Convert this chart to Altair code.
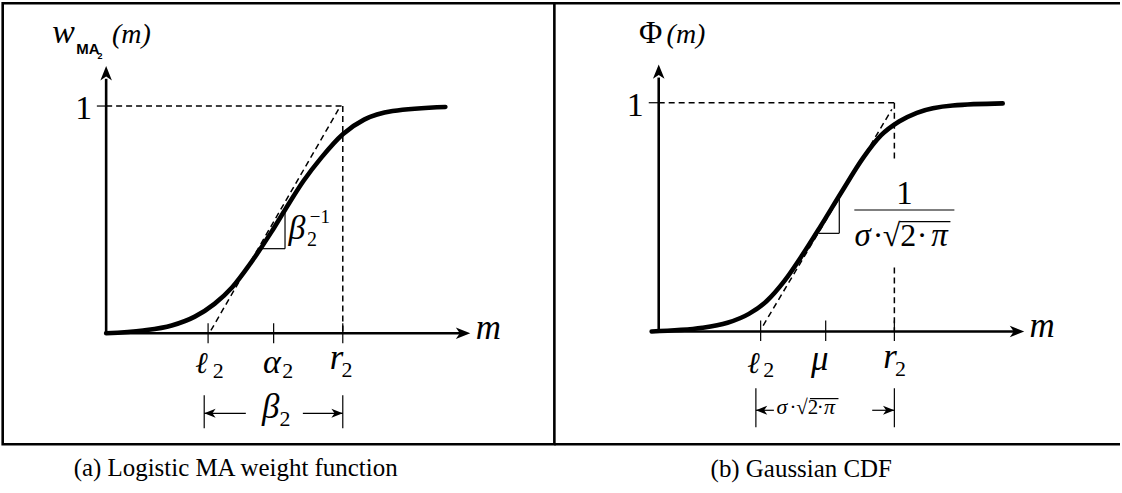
import altair as alt
import pandas as pd

SERIF = "Liberation Serif"
SANS = "Liberation Sans"
SCRIPT = "DejaVu Serif"

# ---------------- panel (a): logistic MA weight function ----------------
A_WIDTH, A_HEIGHT = 553, 442
A_M_DOMAIN = [-2.4286, 10.522]
A_W_DOMAIN = [-0.4888, 1.4524]

a_curve_m = [0.0, 0.871, 1.539, 2.082, 2.543, 2.960, 3.379, 3.881, 4.215, 4.635, 5.052, 5.555, 6.056, 6.726, 7.963]
a_curve_w = [0.0, 0.012, 0.034, 0.073, 0.129, 0.202, 0.305, 0.446, 0.548, 0.671, 0.773, 0.876, 0.940, 0.978, 0.996]

# dashed guides: level 1, vertical at r2, tangent through alpha2
a_dash_m = [0.0, 5.555, 2.459]
a_dash_w = [1.0, 1.0, 0.012]
a_dash_m2 = [5.555, 5.555, 5.454]
a_dash_w2 = [1.0, 0.0, 0.985]

# thin solid strokes: ticks, slope triangle, width bracket
a_thin_m = [2.393, 3.932, 5.555, -0.218, 4.199, 3.604, 2.302, 5.555, 2.302, 4.618]
a_thin_w = [0.044, 0.044, 0.044, 1.0, 0.552, 0.372, -0.2736, -0.2736, -0.3527, -0.3527]
a_thin_m2 = [2.393, 3.932, 5.555, 0.0, 4.199, 4.199, 2.302, 5.555, 3.279, 5.555]
a_thin_w2 = [-0.044, -0.044, -0.044, 1.0, 0.372, 0.372, -0.4185, -0.4185, -0.3527, -0.3527]

# coordinate axes
a_axis_m = [0.0, 0.0]
a_axis_w = [0.0, 0.0]
a_axis_m2 = [8.45, 0.0]
a_axis_w2 = [0.0, 1.12]

a_head_m = [8.548, 0.0]
a_head_w = [0.0, 1.176]
a_head_angle = [0, 270]

a_bhead_m = [2.302, 5.555]
a_bhead_w = [-0.3527, -0.3527]
a_bhead_angle = [180, 0]

a_it_text = ["w", "(m)", "m", "\u03b1", "r", "\u03b2", "\u03b2"]
a_it_m = [-1.0, 0.5925, 8.974, 3.89, 5.408, 4.48, 3.86]
a_it_w = [1.2767, 1.2767, -0.0277, -0.177, -0.159, 0.416, -0.375]
a_it_size = [34, 28, 35, 34, 35, 34, 35]

a_sc_text = ["\u2113"]
a_sc_m = [2.239]
a_sc_w = [-0.177]
a_sc_size = [30]

a_rm_text = ["1", "2", "2", "2", "2", "\u22121", "2"]
a_rm_m = [-0.527, 2.63, 4.26, 5.651, 4.831, 5.019, 4.2]
a_rm_w = [0.9416, -0.197, -0.197, -0.193, 0.385, 0.486, -0.41]
a_rm_size = [34, 22, 22, 22, 20, 19, 22]

a_sf_text = ["MA", "2"]
a_sf_m = [-0.43, -0.145]
a_sf_w = [1.2297, 1.2051]
a_sf_size = [15, 9]

# ---------------- panel (b): Gaussian CDF ----------------
B_WIDTH, B_HEIGHT = 567, 442
B_M_DOMAIN = [-2.4496, 10.829]
B_W_DOMAIN = [-0.4928, 1.4348]

b_curve_m = [-0.166, 1.026, 1.614, 2.117, 2.536, 2.956, 3.375, 3.794, 4.300, 4.803, 5.222, 5.642, 6.061, 6.902, 8.075]
b_curve_w = [0.0, 0.016, 0.038, 0.077, 0.133, 0.222, 0.335, 0.458, 0.612, 0.760, 0.858, 0.918, 0.956, 0.988, 0.997]

b_dash_m = [0.0, 5.532, 5.532, 2.452]
b_dash_w = [1.0, 1.0, 0.280, 0.026]
b_dash_m2 = [5.532, 5.532, 5.532, 5.473]
b_dash_w2 = [1.0, 0.746, 0.0, 0.971]

b_thin_m = [2.393, 3.920, 5.532, -0.234, 4.239, 3.754, 4.592, 5.653, 2.281, 5.532, 2.281, 5.012, 3.55]
b_thin_w = [0.048, 0.048, 0.048, 1.0, 0.586, 0.429, 0.531, 0.48, -0.2486, -0.2486, -0.3445, -0.3445, -0.2935]
b_thin_m2 = [2.393, 3.920, 5.532, 0.0, 4.239, 4.239, 6.941, 6.848, 2.281, 5.532, 2.703, 5.532, 4.22]
b_thin_w2 = [-0.042, -0.042, -0.042, 1.0, 0.429, 0.429, 0.531, 0.48, -0.4187, -0.4187, -0.3445, -0.3445, -0.2935]

b_axis_m = [0.0, 0.0]
b_axis_w = [0.0, 0.0]
b_axis_m2 = [8.48, 0.0]
b_axis_w2 = [0.0, 1.11]

b_head_m = [8.581, 0.0]
b_head_w = [0.0, 1.1675]
b_head_angle = [0, 270]

b_bhead_m = [2.281, 5.532]
b_bhead_w = [-0.3445, -0.3445]
b_bhead_angle = [180, 0]

b_it_text = ["(m)", "m", "\u03bc", "r", "\u03c3", "\u03c0", "\u03c3", "\u03c0"]
b_it_m = [0.64, 9.0, 3.78, 5.431, 4.785, 6.59, 2.89, 4.01]
b_it_w = [1.260, -0.0249, -0.17, -0.16, 0.375, 0.375, -0.362, -0.362]
b_it_size = [28, 35, 35, 35, 33, 33, 22, 22]

b_sc_text = ["\u2113"]
b_sc_m = [2.222]
b_sc_w = [-0.183]
b_sc_size = [30]

b_rm_text = ["\u03a6", "1", "2", "2", "1", "\u00b7", "\u221a2", "\u00b7", "\u00b7", "\u221a2", "\u00b7"]
b_rm_m = [-0.19, -0.553, 2.585, 5.677, 5.768, 5.15, 5.653, 6.18, 3.15, 3.485, 3.79]
b_rm_w = [1.260, 0.942, -0.198, -0.193, 0.558, 0.375, 0.375, 0.375, -0.362, -0.362, -0.362]
b_rm_size = [32, 34, 22, 22, 33, 32, 32, 32, 21, 21, 21]

# frame edges drawn inside panel (b)
b_frame_m = [B_M_DOMAIN[0], B_M_DOMAIN[0]]
b_frame_w = [B_W_DOMAIN[1], B_W_DOMAIN[0]]
b_frame_m2 = [B_M_DOMAIN[1], B_M_DOMAIN[1]]
b_frame_w2 = [B_W_DOMAIN[1], B_W_DOMAIN[0]]

ARROW = "M0,0L-2,-0.8L-1.45,0L-2,0.8Z"


def segs(m, w, m2, w2):
    return pd.DataFrame({"m": m, "w": w, "m2": m2, "w2": w2})


def pts(m, w, **extra):
    d = {"m": m, "w": w}
    d.update(extra)
    return pd.DataFrame(d)


def panel(width, height, dom_m, dom_w, curve, dashed, thin, axes, heads, bheads,
          it, sc, rm, sf, frame, title, title_dx):
    xs = alt.Scale(domain=dom_m, nice=False, zero=False)
    ys = alt.Scale(domain=dom_w, nice=False, zero=False)

    def xy():
        return dict(x=alt.X("m:Q", scale=xs, axis=None), y=alt.Y("w:Q", scale=ys, axis=None))

    def rule(df, **kw):
        return alt.Chart(df).mark_rule(color="black", **kw).encode(
            x2="m2:Q", y2="w2:Q", **xy())

    def text(df, **kw):
        return alt.Chart(df).mark_text(color="black", align="center",
                                       baseline="alphabetic", **kw).encode(
            text="t:N", size=alt.Size("s:Q", scale=None), **xy())

    layers = [
        rule(dashed, strokeDash=[6, 4], strokeWidth=1.5),
        rule(thin, strokeWidth=1.2),
        rule(axes, strokeWidth=2.6),
        alt.Chart(curve).mark_line(color="black", strokeWidth=4.6, interpolate="monotone",
                                   strokeCap="round").encode(order="i:Q", **xy()),
        alt.Chart(heads).mark_point(shape=ARROW, filled=True, color="black", opacity=1,
                                    size=210, strokeWidth=0).encode(
            angle=alt.Angle("angle:Q", scale=None), **xy()),
        alt.Chart(bheads).mark_point(shape=ARROW, filled=True, color="black", opacity=1,
                                     size=130, strokeWidth=0).encode(
            angle=alt.Angle("angle:Q", scale=None), **xy()),
        text(it, font=SERIF, fontStyle="italic"),
        text(sc, font=SCRIPT, fontStyle="italic"),
        text(rm, font=SERIF),
    ]
    if sf is not None:
        layers.append(text(sf, font=SANS, fontWeight="bold"))
    if frame is not None:
        layers.append(rule(frame, strokeWidth=2.6))
    return alt.layer(*layers).properties(
        width=width, height=height,
        title=alt.TitleParams(text=title, orient="bottom", font=SERIF, fontSize=25,
                              fontWeight="normal", color="black", anchor="middle",
                              frame="group", offset=12, dx=title_dx),
    )


panel_a = panel(
    A_WIDTH, A_HEIGHT, A_M_DOMAIN, A_W_DOMAIN,
    pts(a_curve_m, a_curve_w, i=list(range(len(a_curve_m)))),
    segs(a_dash_m, a_dash_w, a_dash_m2, a_dash_w2),
    segs(a_thin_m, a_thin_w, a_thin_m2, a_thin_w2),
    segs(a_axis_m, a_axis_w, a_axis_m2, a_axis_w2),
    pts(a_head_m, a_head_w, angle=a_head_angle),
    pts(a_bhead_m, a_bhead_w, angle=a_bhead_angle),
    pts(a_it_m, a_it_w, t=a_it_text, s=a_it_size),
    pts(a_sc_m, a_sc_w, t=a_sc_text, s=a_sc_size),
    pts(a_rm_m, a_rm_w, t=a_rm_text, s=a_rm_size),
    pts(a_sf_m, a_sf_w, t=a_sf_text, s=a_sf_size),
    None,
    "(a) Logistic MA weight function", -43,
).properties(view=alt.ViewBackground(stroke="black", strokeWidth=2.6))

panel_b = panel(
    B_WIDTH, B_HEIGHT, B_M_DOMAIN, B_W_DOMAIN,
    pts(b_curve_m, b_curve_w, i=list(range(len(b_curve_m)))),
    segs(b_dash_m, b_dash_w, b_dash_m2, b_dash_w2),
    segs(b_thin_m, b_thin_w, b_thin_m2, b_thin_w2),
    segs(b_axis_m, b_axis_w, b_axis_m2, b_axis_w2),
    pts(b_head_m, b_head_w, angle=b_head_angle),
    pts(b_bhead_m, b_bhead_w, angle=b_bhead_angle),
    pts(b_it_m, b_it_w, t=b_it_text, s=b_it_size),
    pts(b_sc_m, b_sc_w, t=b_sc_text, s=b_sc_size),
    pts(b_rm_m, b_rm_w, t=b_rm_text, s=b_rm_size),
    None,
    segs(b_frame_m, b_frame_w, b_frame_m2, b_frame_w2),
    "(b) Gaussian CDF", -36,
).properties(view=alt.ViewBackground(stroke=None))

chart = alt.hconcat(panel_a, panel_b, spacing=0, bounds="flush").properties(
    padding={"left": 0.7, "top": 0.7, "right": 0, "bottom": 0},
    background="white",
).configure_view(stroke=None)

chart.save("out.html", embed_options={"renderer": "svg", "actions": False})
